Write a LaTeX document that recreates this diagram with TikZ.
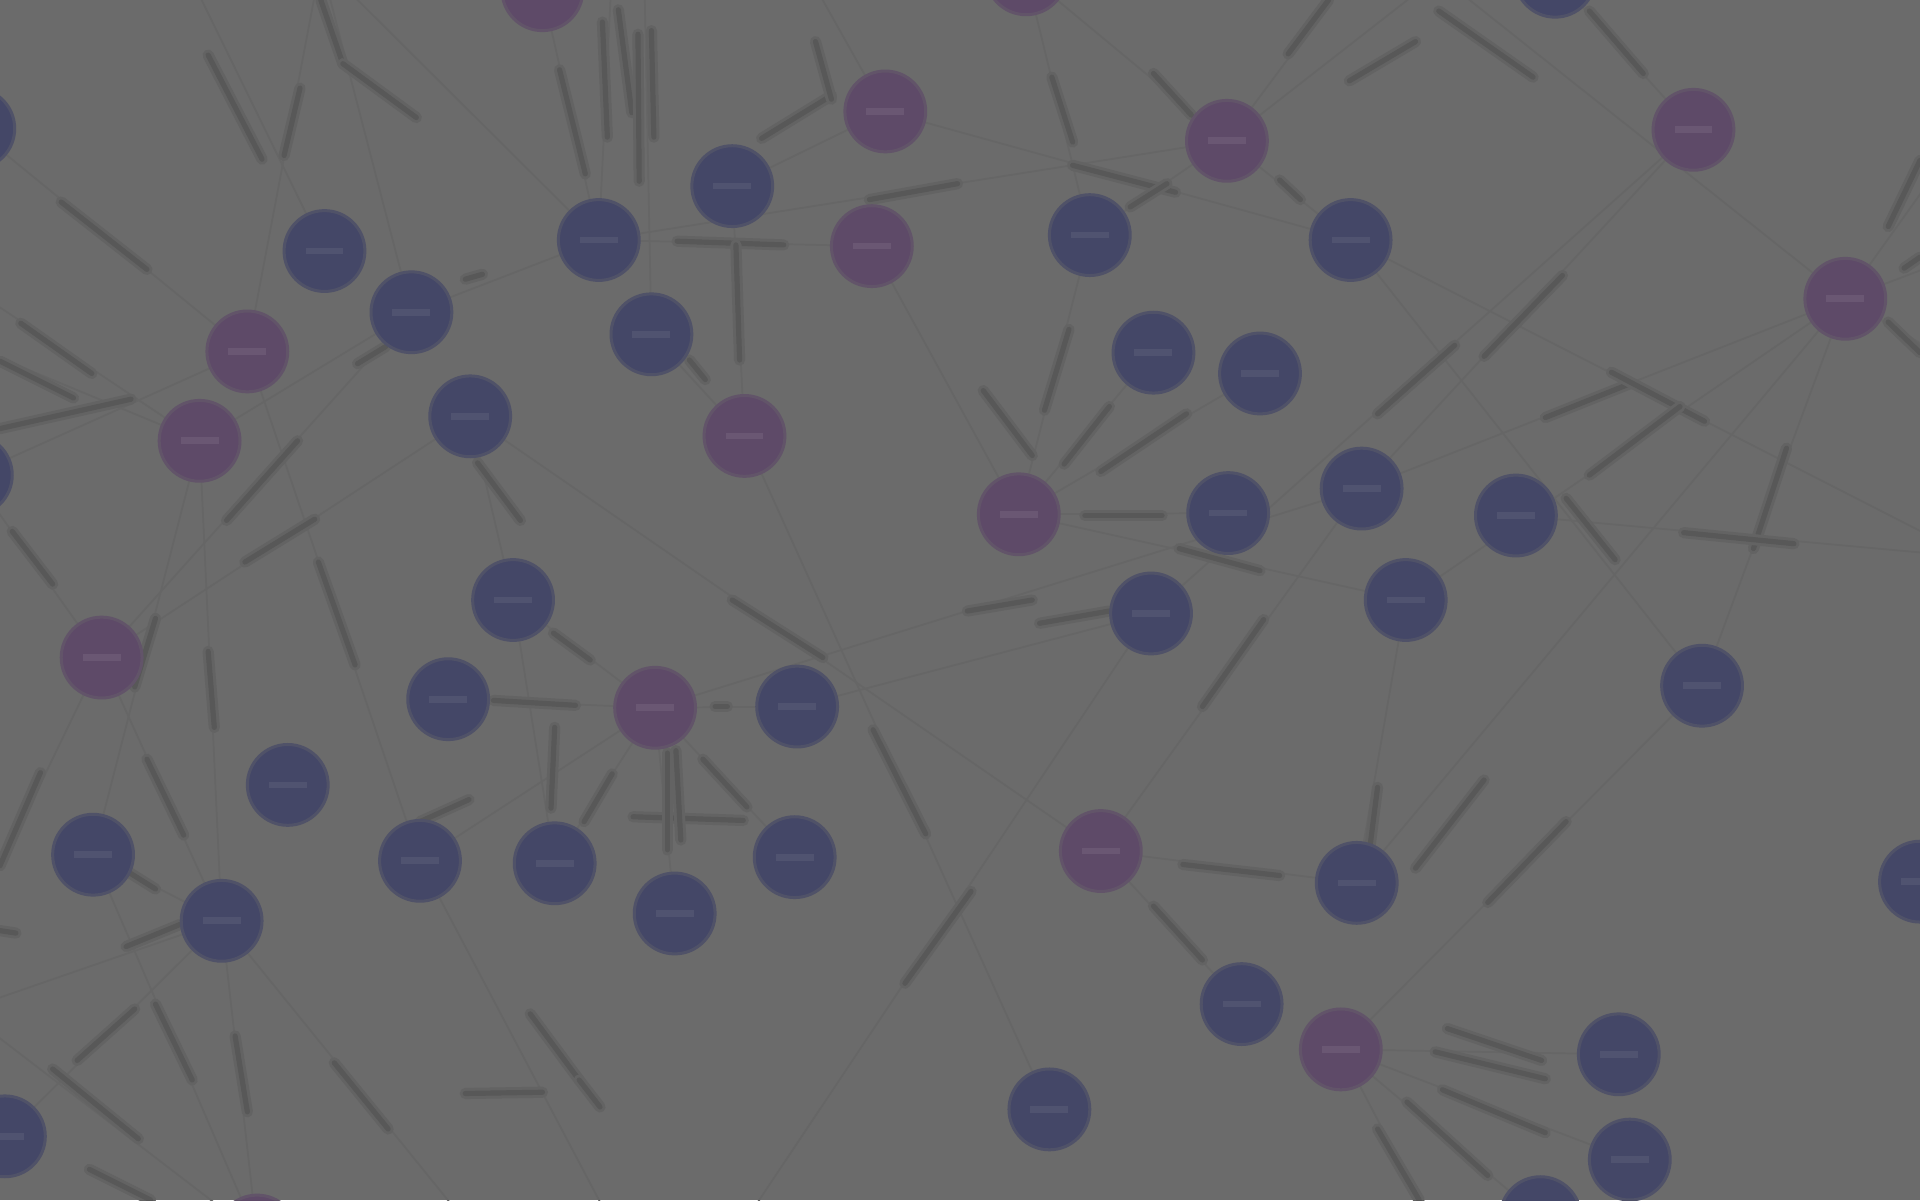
\documentclass[tikz,border=0pt]{standalone}
\usepackage{xcolor}
\definecolor{bgc}{RGB}{107,107,107}
\definecolor{nblue}{RGB}{68,71,103}
\definecolor{npurp}{RGB}{94,74,104}
\definecolor{tblue}{RGB}{80,83,112}
\definecolor{tpurp}{RGB}{106,87,115}
\definecolor{edgec}{RGB}{102,102,102}
\definecolor{tagc}{RGB}{88,88,88}
\definecolor{haloc}{RGB}{99,99,99}
\usepackage{tikz}
\usetikzlibrary{arrows.meta}
\newcommand{\lblbar}{\rule{3.1mm}{0.55mm}}

\begin{document}
\begin{tikzpicture}[x=0.1mm,y=-0.1mm,
  nb/.style={circle,fill=nblue,draw=nblue!70!bgc,line width=0.7pt,text=tblue,
    minimum size=6.6mm,inner sep=0pt},
  np/.style={circle,fill=npurp,draw=npurp!70!bgc,line width=0.7pt,text=tpurp,
    minimum size=6.6mm,inner sep=0pt},
  rel/.style={draw=edgec,line width=0.4pt},
  tag/.style={draw=tagc,line width=1.2pt,line cap=round,
    preaction={draw=haloc,line width=2.6pt,line cap=round}}]
\useasboundingbox (0,0) rectangle (1568,980);
\fill[bgc] (0,0) rectangle (1568,980);
\clip (0,0) rectangle (1568,980);
% nodes
\foreach \nm/\px/\py in {n3/1270/-19,n4/-21/105,n8/598/152,n9/489/196,n10/265/205,
  n12/890/192,n13/1103/196,n15/336/255,n17/532/273,n18/942/288,n19/1029/305,
  n21/384/340,n23/-23/388,n25/1003/419,n26/1112/399,n27/1238/421,n28/419/490,
  n29/940/501,n30/1148/490,n32/366/571,n34/651/577,n35/1390/560,n36/235/641,
  n37/76/698,n38/343/703,n39/453/705,n40/649/700,n42/1108/721,n43/1568/720,
  n44/181/752,n45/551/746,n46/1014/820,n48/1322/861,n49/857/906,n50/4/928,
  n51/1331/947,n52/1258/994}
  \coordinate (\nm) at (\px,\py);
\foreach \nm/\px/\py in {n1/443/-8,n2/838/-21,n5/723/91,n6/1002/115,n7/1383/106,
  n11/712/201,n14/1507/244,n16/202/287,n20/163/360,n22/608/356,n24/832/420,
  n31/83/537,n33/535/578,n41/899/695,n47/1095/857,n53/210/1009}
  \coordinate (\nm) at (\px,\py);
% free ends off the sheet
\coordinate (t0) at (150,-30);
\coordinate (t1) at (262,-30);
\coordinate (t2) at (500,-30);
\coordinate (t3) at (526,-30);
\coordinate (t4) at (655,-30);
\coordinate (t6) at (1175,-20);
\coordinate (t7) at (1110,-30);
\coordinate (rr) at (1610,455);
\coordinate (r1) at (1610,100);
\coordinate (r2) at (1610,205);
\coordinate (r3) at (1610,305);
\coordinate (b1) at (600,1010);
\coordinate (b2) at (1175,1010);
\coordinate (b3) at (505,1010);
\coordinate (b4) at (390,1010);
\coordinate (l1) at (-30,825);
\coordinate (l2) at (-25,760);
\coordinate (l4) at (-30,231);
\coordinate (l5) at (-30,280);
% relations
\foreach \u/\v in {n1/n9,n8/n22,n9/n11,n8/n5,n9/n6,n2/n12,n2/n6,n5/n13,n12/n6,
  n6/n13,n3/n7,n26/n7,n29/n7,n26/n14,n30/n14,n13/n35,n14/n35,n12/n24,n11/n24,
  n24/n18,n24/n19,n24/n25,n24/n30,n34/n29,n33/n26,n22/n49,n41/n26,n41/n42,
  n41/n46,n30/n42,n42/n14,n47/n35,n47/n48,n47/n51,n47/n52,n28/n33,n21/n41,
  n32/n33,n33/n34,n28/n39,n39/n33,n33/n45,n33/n40,n38/n33,n21/n28,n20/n15,
  n15/n9,n31/n15,n31/n21,n16/n38,n37/n20,n20/n44,n31/n44,n23/n31,n37/n44,
  n50/n44,n37/n53,n44/n53,n4/n16,n23/n16,n17/n22,n10/t0,n16/t1,t1/n9,t1/n15,
  n9/t2,n17/t3,n5/t4,n6/t6,t6/n14,n6/t7,n13/rr,n27/rr,n14/r1,n14/r2,n14/r3,
  n29/b1,n47/b2,n38/b3,n44/b4,l1/n53,l1/n44,n31/l2,l4/n20,l5/n20}
  \draw[rel] (\u) -- (\v);
% relation types
\foreach \xa/\ya/\xb/\yb in {170/45/214/130,245/72/232/127,262/0/280/52,280/52/340/96,
  50/165/120/220,17/264/75/305,0/295/60/325,0/350/107/326,185/425/243/360,
  292/297/315/283,380/228/394/224,390/378/425/425,457/57/478/142,492/18/496/112,
  505/8/516/92,521/28/522/148,532/25/534/112,622/113/679/78,666/34/679/81,
  553/197/640/200,601/200/604/294,563/294/576/310,710/163/782/150,859/63/876/116,
  942/60/973/94,876/135/960/157,923/169/953/150,1045/147/1062/163,1052/44/1085/0,
  1102/66/1156/34,1175/9/1252/63,1298/9/1342/60,1212/291/1276/225,
  1125/338/1188/282,1262/341/1332/313,1316/304/1392/344,1298/388/1372/332,
  1279/407/1319/457,1459/366/1432/448,1375/435/1465/444,1542/185/1568/131,
  1555/219/1568/210,1542/263/1568/288,873/269/853/335,803/319/843/372,
  869/379/906/332,899/385/969/338,886/421/949/421,963/448/1029/466,
  790/499/843/490,849/509/906/499,713/596/756/681,982/577/1032/506,
  793/728/739/803,966/706/1045/715,942/740/982/784,1125/643/1119/690,
  1156/709/1212/637,1215/737/1279/671,1172/859/1262/881,1182/840/1259/866,
  1178/890/1262/925,1149/900/1215/960,1125/922/1159/980,452/517/482/539,
  598/490/672/537,403/572/470/576,584/577/594/577,453/594/450/660,
  477/671/500/632,517/667/607/670,545/615/545/694,552/613/556/686,
  574/620/610/659,343/671/383/653,200/459/257/424,260/459/290/543,
  10/434/43/477,110/561/127/505,170/532/175/594,120/620/150/682,0/707/33/631,
  103/711/127/726,103/773/147/755,0/760/13/762,63/866/110/824,127/820/157/882,
  192/846/202/908,43/873/113/930,73/955/123/980,273/868/317/922,
  433/828/473/882,380/893/443/892,473/882/490/904}
  \draw[tag] (\xa,\ya) -- (\xb,\yb);
% circles on top
\foreach \nm in {n3,n4,n8,n9,n10,n12,n13,n15,n17,n18,n19,n21,n23,n25,n26,n27,
  n28,n29,n30,n32,n34,n35,n36,n37,n38,n39,n40,n42,n43,n44,n45,n46,n48,n49,
  n50,n51,n52}
  \node[nb] (c\nm) at (\nm) {\lblbar};
\foreach \nm in {n1,n2,n5,n6,n7,n11,n14,n16,n20,n22,n24,n31,n33,n41,n47,n53}
  \node[np] (c\nm) at (\nm) {\lblbar};
\end{tikzpicture}
\end{document}
